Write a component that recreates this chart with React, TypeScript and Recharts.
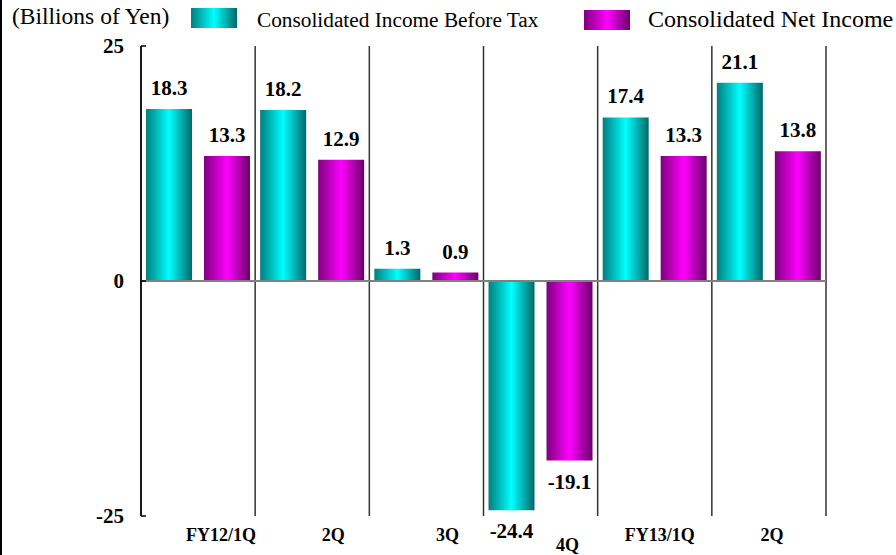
import { Bar, BarChart, CartesianGrid, LabelList, ReferenceLine, XAxis, YAxis } from 'recharts'

const categories = ['FY12/1Q', '2Q', '3Q', '4Q', 'FY13/1Q', '2Q']
const incomeBeforeTax = [18.3, 18.2, 1.3, -24.4, 17.4, 21.1]
const netIncome = [13.3, 12.9, 0.9, -19.1, 13.3, 13.8]
const yTicks = [-25, 0, 25]
const unitLabel = '(Billions of Yen)'
const seriesNames = ['Consolidated Income Before Tax', 'Consolidated Net Income']

const data = categories.map((name, i) => ({
  idx: i,
  name,
  pretax: incomeBeforeTax[i],
  net: netIncome[i],
}))

// category labels sit a bit right of the band centre in the original
const TICK_DX = [23, 21, 21, 27, 5, 3]
const TICK_DY = [0, 0, 0, 10, 0, 0]

const FONT = '"Times New Roman", "Liberation Serif", serif'

function CategoryTick(props: any) {
  const { x, y, payload } = props
  const i = Number(payload.value)
  return (
    <text
      x={x + TICK_DX[i]}
      y={y + 25 + TICK_DY[i]}
      textAnchor="middle"
      fontFamily={FONT}
      fontWeight="bold"
      fontSize={18}
      fill="#000"
    >
      {categories[i]}
    </text>
  )
}

function ValueLabel(props: any) {
  const { x, y, width, height, value } = props
  const top = Math.min(y, y + height)
  const bottom = Math.max(y, y + height)
  const ty = value < 0 ? bottom + 28 : top - 14
  return (
    <text
      x={x + width / 2}
      y={ty}
      textAnchor="middle"
      fontFamily={FONT}
      fontWeight="bold"
      fontSize={21}
      fill="#000"
    >
      {Number(value).toFixed(1)}
    </text>
  )
}

// band boundaries: one line at each edge of every category
const bandLines = ({ offset }: any) =>
  categories.map((_, i) => offset.left + (i * offset.width) / categories.length).concat(offset.left + offset.width)

const cyanGrad = 'linear-gradient(to right, #007f7f, #00ffff 50%, #006868)'
const magentaGrad = 'linear-gradient(to right, #7f007f, #ff00ff 50%, #680068)'

export default function App() {
  return (
    <div style={{ position: 'fixed', left: 0, top: 0, width: 896, height: 555, background: '#fff', overflow: 'hidden' }}>
      <div style={{ position: 'absolute', left: 0, top: 0, width: 2, height: 555, background: '#000' }} />

      <div style={{ position: 'absolute', left: 12, top: 3, fontFamily: FONT, fontSize: 23.5, whiteSpace: 'nowrap' }}>
        {unitLabel}
      </div>
      <div style={{ position: 'absolute', left: 191, top: 8, width: 46, height: 20, background: cyanGrad }} />
      <div style={{ position: 'absolute', left: 257, top: 8, fontFamily: FONT, fontSize: 21.3, whiteSpace: 'nowrap' }}>
        {seriesNames[0]}
      </div>
      <div style={{ position: 'absolute', left: 584, top: 10, width: 46, height: 20, background: magentaGrad }} />
      <div style={{ position: 'absolute', left: 648, top: 6, fontFamily: FONT, fontSize: 24, whiteSpace: 'nowrap' }}>
        {seriesNames[1]}
      </div>

      <BarChart
        width={896}
        height={555}
        data={data}
        margin={{ top: 46, right: 70, left: 0, bottom: 0 }}
        barCategoryGap={5}
        barGap={12}
        style={{ position: 'absolute', left: 0, top: 0 }}
      >
        <defs>
          <linearGradient id="gCyan" x1="0" y1="0" x2="1" y2="0">
            <stop offset="0%" stopColor="#007f7f" />
            <stop offset="50%" stopColor="#00ffff" />
            <stop offset="100%" stopColor="#006868" />
          </linearGradient>
          <linearGradient id="gMagenta" x1="0" y1="0" x2="1" y2="0">
            <stop offset="0%" stopColor="#7f007f" />
            <stop offset="50%" stopColor="#ff00ff" />
            <stop offset="100%" stopColor="#680068" />
          </linearGradient>
        </defs>
        <CartesianGrid horizontal={false} verticalCoordinatesGenerator={bandLines} stroke="#333" strokeWidth={1.5} />
        <XAxis
          dataKey="idx"
          height={39}
          axisLine={false}
          tickLine={false}
          tickSize={0}
          tickMargin={0}
          interval={0}
          tick={<CategoryTick />}
        />
        <YAxis
          width={141}
          domain={[-25, 25]}
          ticks={yTicks}
          interval={0}
          axisLine={{ stroke: '#000', strokeWidth: 1.5 }}
          tickLine={{ stroke: '#000', strokeWidth: 1.5 }}
          tickSize={-5}
          tickMargin={22}
          tick={{ fontFamily: FONT, fontWeight: 'bold', fontSize: 21, fill: '#000' }}
        />
        <Bar dataKey="pretax" fill="url(#gCyan)" isAnimationActive={false}>
          <LabelList dataKey="pretax" content={<ValueLabel />} />
        </Bar>
        <Bar dataKey="net" fill="url(#gMagenta)" isAnimationActive={false}>
          <LabelList dataKey="net" content={<ValueLabel />} />
        </Bar>
        <ReferenceLine y={0} stroke="#808080" strokeWidth={2} />
      </BarChart>
    </div>
  )
}
